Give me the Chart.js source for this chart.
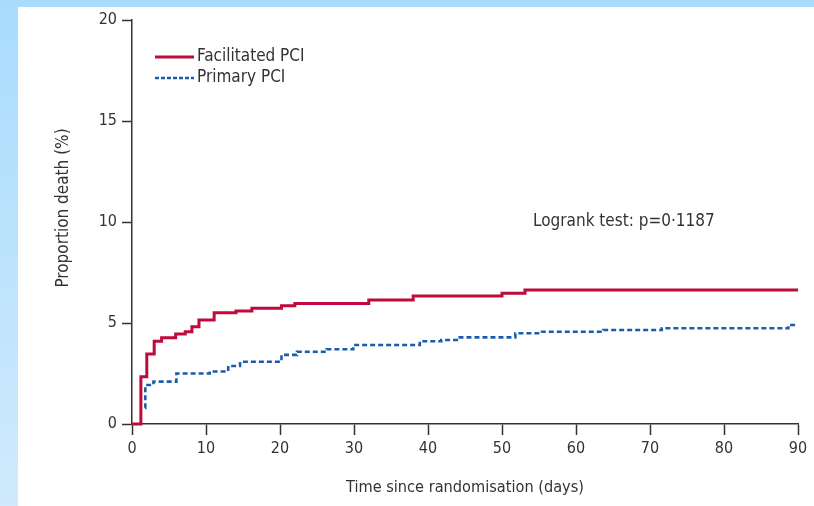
<!DOCTYPE html>
<html>
<head>
<meta charset="utf-8">
<script src="https://cdn.jsdelivr.net/npm/chart.js@4/dist/chart.umd.min.js"></script>
<style>
    html, body { margin: 0; padding: 0; }
    body {
        width: 814px; height: 506px; position: relative; overflow: hidden;
        background: linear-gradient(to bottom, #a8dcfd, #d0eafc);
    }
    #panel { position: absolute; left: 18px; top: 7px; right: 0; bottom: 0; background: #fff; }
    #survival { position: absolute; left: 0; top: 0; }
</style>
</head>
<body>
<div id="panel"></div>
<canvas id="survival" width="814" height="506"></canvas>
<script>
// Kaplan-Meier steps: day of event and cumulative proportion dead (%)
const facilitatedDays  = [0, 1.2, 2.0, 3.0, 4.0, 5.9, 7.2, 8.1, 9.05, 11.1, 14.05, 16.2, 20.2, 22, 32, 38, 50, 53.1, 90];
const facilitatedDeath = [0, 2.34, 3.47, 4.1, 4.27, 4.45, 4.57, 4.82, 5.15, 5.51, 5.6, 5.73, 5.86, 5.97, 6.14, 6.34, 6.47, 6.63, 6.63];

const primaryDays  = [1.75, 1.8, 2.9, 6.0, 10.5, 13, 14.6, 20.2, 22.3, 26.3, 29.9, 38.9, 41.8, 43.9, 51.8, 55.4, 63.7, 71.6, 88.7, 90];
const primaryDeath = [0.8, 1.93, 2.1, 2.5, 2.6, 2.87, 3.08, 3.42, 3.58, 3.7, 3.91, 4.1, 4.16, 4.29, 4.49, 4.57, 4.65, 4.74, 4.9, 4.9];

const seriesNames = ['Facilitated PCI', 'Primary PCI'];
const xTicks = [0, 10, 20, 30, 40, 50, 60, 70, 80, 90];
const yTicks = [0, 5, 10, 15, 20];
const yTitle = 'Proportion death (%)';
const logrankText = 'Logrank test: p=0\u00b71187';

const FONT = '"Liberation Sans Narrow", "DejaVu Sans Condensed", sans-serif';
const INK = '#333333';
const RED = '#be0a3c';
const BLUE = '#1c5eab';

const toPoints = (xs, ys) => xs.map((x, i) => ({ x: x, y: ys[i] }));

// legend lines, logrank note and the y title (sits a little above the axis middle)
const notesPlugin = {
    id: 'notes',
    afterDraw(chart) {
        const ctx = chart.ctx;
        const rows = [57, 78];
        ctx.save();
        chart.data.datasets.forEach((ds, i) => {
            ctx.beginPath();
            ctx.strokeStyle = ds.borderColor;
            ctx.lineWidth = ds.borderWidth;
            ctx.setLineDash(i === 0 ? [] : [4, 2]);
            ctx.moveTo(155, rows[i]);
            ctx.lineTo(194, rows[i]);
            ctx.stroke();
        });
        ctx.setLineDash([]);
        ctx.fillStyle = INK;
        ctx.textBaseline = 'middle';
        ctx.textAlign = 'left';
        ctx.font = '17px ' + FONT;
        chart.data.datasets.forEach((ds, i) => ctx.fillText(ds.label, 197, rows[i]));
        ctx.fillText(logrankText, 533, 222);

        ctx.translate(64, 208);
        ctx.rotate(-Math.PI / 2);
        ctx.textAlign = 'center';
        ctx.fillText(yTitle, 0, 0);
        ctx.restore();
    }
};

new Chart(document.getElementById('survival'), {
    type: 'line',
    data: {
        datasets: [
            { label: seriesNames[0], data: toPoints(facilitatedDays, facilitatedDeath),
              borderColor: RED, borderWidth: 3, stepped: true, pointRadius: 0, clip: 6 },
            { label: seriesNames[1], data: toPoints(primaryDays, primaryDeath),
              borderColor: BLUE, borderWidth: 2.6, borderDash: [5, 3], stepped: true, pointRadius: 0, clip: 6 }
        ]
    },
    options: {
        responsive: false,
        animation: false,
        devicePixelRatio: 1,
        layout: { padding: { top: 20, right: 16, left: 0, bottom: 0 } },
        plugins: { legend: { display: false }, tooltip: { enabled: false } },
        scales: {
            x: {
                type: 'linear', min: 0, max: 90,
                afterBuildTicks: s => { s.ticks = xTicks.map(v => ({ value: v })); },
                afterFit: s => { s.height = 82; },
                grid: { drawOnChartArea: false, tickLength: 11, tickColor: INK, tickWidth: 1.5 },
                border: { color: INK, width: 1.5 },
                ticks: { color: INK, padding: 4, font: { family: FONT, size: 16 }, maxRotation: 0 },
                title: { display: true, text: 'Time since randomisation (days)', color: INK,
                         font: { family: FONT, size: 16.2 }, padding: { top: 0, bottom: 8 } }
            },
            y: {
                min: 0, max: 20,
                afterBuildTicks: s => { s.ticks = yTicks.map(v => ({ value: v })); },
                afterFit: s => { s.width = 132; },
                grid: { drawOnChartArea: false, tickLength: 10, tickColor: INK, tickWidth: 1.5 },
                border: { color: INK, width: 1.5 },
                ticks: { color: INK, padding: 5, font: { family: FONT, size: 16 } }
            }
        }
    },
    plugins: [notesPlugin]
});
</script>
</body>
</html>
